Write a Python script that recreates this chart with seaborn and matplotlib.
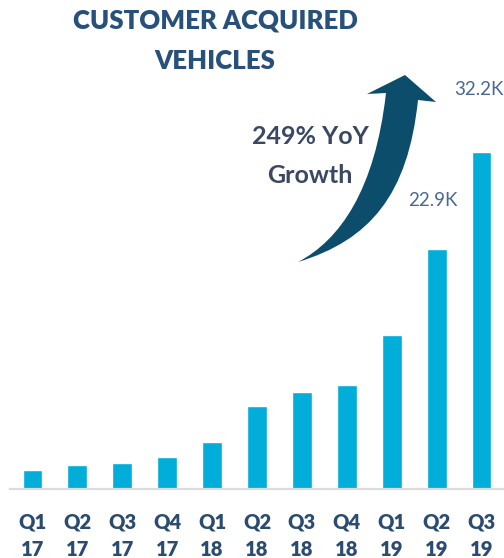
import matplotlib
matplotlib.use("Agg")
import matplotlib.pyplot as plt
import seaborn as sns
import pandas as pd
from matplotlib.patches import PathPatch
from matplotlib.path import Path

# ---- data ----
quarters = ["Q1", "Q2", "Q3", "Q4", "Q1", "Q2", "Q3", "Q4", "Q1", "Q2", "Q3"]
years = ["17", "17", "17", "17", "18", "18", "18", "18", "19", "19", "19"]
vehicles_k = [1.8, 2.3, 2.5, 3.1, 4.5, 7.9, 9.3, 9.9, 14.7, 22.9, 32.2]
value_labels = ["", "", "", "", "", "", "", "", "", "22.9K", "32.2K"]
title = "CUSTOMER ACQUIRED\nVEHICLES"
growth_text = "249% YoY\nGrowth"

labels = [f"{q}\n{y}" for q, y in zip(quarters, years)]
df = pd.DataFrame({"period": labels, "vehicles": vehicles_k})

sns.set_theme(style="white")
plt.rcParams["font.family"] = ["Lato", "DejaVu Sans"]

W, H = 504, 558
fig = plt.figure(figsize=(W / 100, H / 100), dpi=100)
base_px = 489
ax = fig.add_axes([10 / W, 1 - base_px / H, 1 - 10 / W, base_px / H])

bar_color = "#00aed9"
sns.barplot(data=df, x="period", y="vehicles", order=labels, color=bar_color,
            width=0.44, saturation=1, ax=ax)

ax.set_xlim(-0.5, 10.5)
ax.set_ylim(0, base_px / 10.47)
ax.set_xlabel("")
ax.set_ylabel("")
ax.set_yticks([])
for s in ["top", "right", "left"]:
    ax.spines[s].set_visible(False)
ax.spines["bottom"].set_color("#dcdcdc")
ax.spines["bottom"].set_linewidth(1.6)
ax.tick_params(axis="x", length=0, pad=17)
for t in ax.get_xticklabels():
    t.set_fontsize(14.5)
    t.set_fontweight("heavy")
    t.set_color("#2b4b70")
    t.set_linespacing(1.55)

# value labels
offsets = {9: (-3, 35), 10: (-2, 45)}
for i, (v, lab) in enumerate(zip(vehicles_k, value_labels)):
    if lab:
        dx, dy = offsets[i]
        ax.annotate(lab, xy=(i, v), xytext=(dx, dy), textcoords="offset points",
                    ha="center", va="center", fontsize=13.5, color="#4a6890",
                    annotation_clip=False)

# title
fig.text(215 / W, 1 - 41 / H, title, ha="center", va="center", fontsize=18.5,
         fontweight="heavy", color="#27507a", linespacing=1.8)

# growth text
fig.text(310 / W, 1 - 156 / H, growth_text, ha="center", va="center", fontsize=18,
         fontweight="bold", color="#3a4862", linespacing=1.8)

# curved arrow (decoration) in pixel coords
def P(x, y):
    return (x / W, 1 - y / H)

verts = [
    P(298, 262),
    P(340, 240), P(375, 190), P(386, 93),   # left edge up (cubic)
    P(367, 94),
    P(405, 75),
    P(436, 102),
    P(418, 100),
    P(408, 195), P(370, 240), P(298, 262),  # right edge down (cubic)
    P(298, 262),
]
codes = [Path.MOVETO,
         Path.CURVE4, Path.CURVE4, Path.CURVE4,
         Path.LINETO, Path.LINETO, Path.LINETO, Path.LINETO,
         Path.CURVE4, Path.CURVE4, Path.CURVE4,
         Path.CLOSEPOLY]
arrow = PathPatch(Path(verts, codes), transform=fig.transFigure,
                  facecolor="#0c4d6b", edgecolor="none")
fig.patches.append(arrow)

fig.savefig("out.png", dpi=100)
